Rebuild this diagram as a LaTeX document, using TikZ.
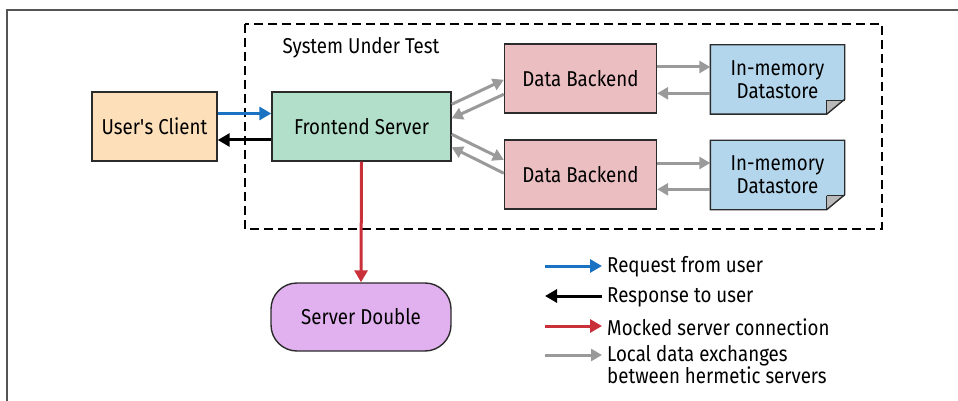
\documentclass[tikz,border=0pt]{standalone}
\usepackage{fontspec}
\setmainfont[FakeStretch=0.87]{Fira Sans}
\usetikzlibrary{arrows.meta,backgrounds}
\definecolor{clientc}{HTML}{FDDFB9}
\definecolor{frontc}{HTML}{B2DFC9}
\definecolor{backc}{HTML}{EBBEC1}
\definecolor{storec}{HTML}{B4D6EC}
\definecolor{doublec}{HTML}{E1B1EF}
\definecolor{bluec}{HTML}{1A73C2}
\definecolor{redc}{HTML}{C9303A}
\definecolor{grayc}{HTML}{9A9A9A}
\definecolor{edgec}{HTML}{2B2B2B}
\tikzset{
  boxs/.style={draw=edgec, line width=1.4pt, minimum height=69pt, inner sep=0pt, align=center, font=\fontsize{21.5}{23}\selectfont},
  tip/.style={-{Triangle[length=12pt,width=13pt]}, line width=3pt},
  gtip/.style={-{Triangle[length=11pt,width=12pt]}, line width=3pt, grayc},
  legtext/.style={anchor=west, inner sep=0pt, align=left, font=\fontsize{21.5}{22}\selectfont},
}
\begin{document}
\begin{tikzpicture}[x=1pt,y=-1pt]
\useasboundingbox (0,0) rectangle (958,401);
\begin{pgfonlayer}{background}
\fill[white] (0,0) rectangle (958,401);
\end{pgfonlayer}
\draw[edgec!80, line width=1.4pt] (7,401) -- (7,10) -- (958,10);
% system under test
\draw[black, line width=2.8pt, dash pattern=on 9pt off 5pt] (245,24) rectangle (882,229);
\node[font=\fontsize{21.5}{23}\selectfont, inner sep=0pt] (sut) at (361,48) {System Under Test};
% nodes
\node[boxs, fill=clientc, minimum width=125pt] (client) at (154.5,126.5) {User\textquotesingle s Client};
\node[boxs, fill=frontc, minimum width=179pt] (front) at (361.5,126.5) {Frontend Server};
\node[boxs, fill=backc, minimum width=152pt] (be1) at (580.5,78.5) {Data Backend};
\node[boxs, fill=backc, minimum width=152pt] (be2) at (580.5,174.5) {Data Backend};
\node[boxs, draw=none, minimum width=133pt, minimum height=68pt] (ds1) at (777.5,79.5) {In-memory\\Datastore};
\node[boxs, draw=none, minimum width=133pt, minimum height=68pt] (ds2) at (777.5,175) {In-memory\\Datastore};
\node[boxs, fill=doublec, minimum width=180pt, minimum height=68pt, rounded corners=26pt] (dbl) at (361,317) {Server Double};
% datastore note shapes
\begin{pgfonlayer}{background}
\foreach \d in {ds1,ds2}{
  \path[fill=storec] (\d.north west) -- (\d.north east) -- ([yshift=15pt]\d.south east) -- ([xshift=-18pt]\d.south east) -- (\d.south west) -- cycle;
  \fill[gray!55] ([xshift=-18pt,yshift=14pt]\d.south east) -- ([yshift=14pt]\d.south east) -- ([xshift=-18pt]\d.south east) -- cycle;
  \draw[edgec, line width=1.4pt, line join=miter] (\d.north west) -- (\d.north east) -- ([yshift=15pt]\d.south east) -- ([xshift=-18pt]\d.south east) -- (\d.south west) -- cycle;
  \draw[edgec, line width=0.9pt] ([xshift=-18pt,yshift=14pt]\d.south east) -- ([yshift=14pt]\d.south east);
  \draw[edgec, line width=0.9pt] ([xshift=-18pt,yshift=14pt]\d.south east) -- ([xshift=-18pt]\d.south east);
}
\end{pgfonlayer}
% client <-> frontend
\draw[tip, bluec] ([yshift=13pt]client.east) -- ([yshift=13pt]front.west);
\draw[tip, black] ([yshift=-13.5pt]front.west) -- ([yshift=-13.5pt]client.east);
% frontend -> double
\draw[tip, redc] (front.south) -- (dbl.north);
% frontend <-> backends
\draw[gtip] ([yshift=-13pt]front.north east) -- ([yshift=-36.5pt]be1.north west);
\draw[gtip] ([yshift=-51pt]be1.north west) -- ([yshift=-27pt]front.north east);
\draw[gtip] ([yshift=-43pt]front.north east) -- ([yshift=-20.5pt]be2.north west);
\draw[gtip] ([yshift=-34pt]be2.north west) -- ([yshift=-56pt]front.north east);
% backends <-> datastores
\draw[gtip] ([yshift=11.5pt]be1.east) -- ([yshift=11.5pt]be1.east -| ds1.west);
\draw[gtip] ([yshift=-14.8pt]be1.east -| ds1.west) -- ([yshift=-14.8pt]be1.east);
\draw[gtip] ([yshift=11.5pt]be2.east) -- ([yshift=11.5pt]be2.east -| ds2.west);
\draw[gtip] ([yshift=-14.8pt]be2.east -| ds2.west) -- ([yshift=-14.8pt]be2.east);
% legend
\node[legtext] (l1) at (607,267) {Request from user};
\node[legtext] (l2) at (607,297) {Response to user};
\node[legtext] (l3) at (607,327) {Mocked server connection};
\node[legtext, anchor=north west] (l4) at (607,345) {Local data exchanges\\between hermetic servers};
\coordinate (a1) at (545,266);
\coordinate (a2) at (545,296);
\coordinate (a3) at (545,326);
\coordinate (a4) at (545,355);
\draw[tip, bluec] (a1) -- ([xshift=-5pt]a1 -| l1.west);
\draw[tip, black] ([xshift=-5pt]a2 -| l2.west) -- (a2);
\draw[tip, redc] (a3) -- ([xshift=-5pt]a3 -| l3.west);
\draw[gtip] (a4) -- ([xshift=-5pt]a4 -| l4.west);
\end{tikzpicture}
\end{document}
